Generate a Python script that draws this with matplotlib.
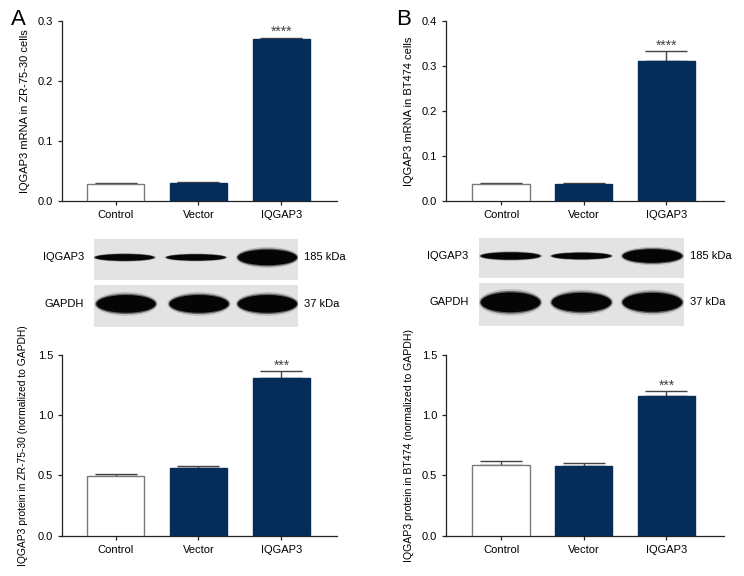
import matplotlib
matplotlib.use('Agg')
import matplotlib.pyplot as plt
from matplotlib.patches import Ellipse

# no condensed face installed; Liberation Sans is the narrowest of the lot
plt.rcParams['font.family'] = ['Liberation Sans', 'DejaVu Sans']
plt.rcParams['font.size'] = 8

groups = ['Control', 'Vector', 'IQGAP3']

# qPCR
mrna_a = [0.029, 0.030, 0.270]
mrna_a_err = [0.001, 0.001, 0.002]
mrna_b = [0.038, 0.038, 0.310]
mrna_b_err = [0.001, 0.001, 0.023]

# western blot quantification
prot_a = [0.498, 0.558, 1.307]
prot_a_err = [0.012, 0.020, 0.060]
prot_b = [0.589, 0.578, 1.160]
prot_b_err = [0.033, 0.025, 0.040]

stars_mrna = ['', '', '****']
stars_prot = ['', '', '***']

# blot band thickness (fraction of strip height)
iqgap3_band_a = [0.16, 0.15, 0.38]
gapdh_band_a = [0.42, 0.42, 0.42]
iqgap3_band_b = [0.18, 0.16, 0.34]
gapdh_band_b = [0.46, 0.44, 0.44]

NAVY = '#062c5a'
face = ['white', NAVY, NAVY]
edge = ['#7a7a7a', NAVY, NAVY]

fig = plt.figure(figsize=(7.44, 5.76), dpi=100)


def bar_panel(rect, vals, errs, stars, ymax, step, ylabel, xlim, labx, labfs=8):
    ax = fig.add_axes(rect)
    x = range(len(groups))
    ax.bar(x, vals, width=0.69, color=face, edgecolor=edge, linewidth=1.0, zorder=3)
    ax.errorbar(x, vals, yerr=[[0] * len(errs), errs], fmt='none', ecolor='#444444',
                elinewidth=1.0, capsize=15, capthick=1.0, zorder=2)
    for i, s in enumerate(stars):
        if s:
            ax.annotate(s, (i, vals[i] + errs[i]), xytext=(0, 4), textcoords='offset points',
                        ha='center', va='center', fontsize=10, color='#444444')
    ax.set_xlim(*xlim)
    ax.set_ylim(0, ymax)
    ticks = [round(step * k, 2) for k in range(int(round(ymax / step)) + 1)]
    ax.set_yticks(ticks)
    ax.set_yticklabels(['%.1f' % t for t in ticks])
    ax.set_xticks(list(x))
    ax.set_xticklabels(groups)
    ax.set_ylabel(ylabel, fontsize=labfs)
    ax.yaxis.set_label_coords(labx, 0.5)
    for sp in ['top', 'right']:
        ax.spines[sp].set_visible(False)
    for sp in ['left', 'bottom']:
        ax.spines[sp].set_linewidth(0.9)
        ax.spines[sp].set_color('#222222')
    ax.tick_params(length=3, width=0.9, color='#222222', labelsize=8)
    return ax


def blot_strip(rect, bands, centers, label, kda):
    ax = fig.add_axes(rect)
    ax.set_facecolor('#e3e3e3')
    ax.set_xlim(0, 1)
    ax.set_ylim(0, 1)
    ax.set_xticks([])
    ax.set_yticks([])
    for sp in ax.spines.values():
        sp.set_visible(False)
    for c, h in zip(centers, bands):
        # soft halo then solid core
        ax.add_patch(Ellipse((c, 0.55), 0.31, h * 1.35, color='#555555', alpha=0.25, lw=0))
        ax.add_patch(Ellipse((c, 0.55), 0.30, h * 1.15, color='#222222', alpha=0.6, lw=0))
        ax.add_patch(Ellipse((c, 0.55), 0.29, h, color='#050505', lw=0))
    ax.text(-0.05, 0.55, label, transform=ax.transAxes, ha='right', va='center', fontsize=8)
    ax.text(1.03, 0.55, kda, transform=ax.transAxes, ha='left', va='center', fontsize=8)


W, H = 744.0, 576.0


def r(x0, y0, x1, y1):
    return [x0 / W, 1 - y1 / H, (x1 - x0) / W, (y1 - y0) / H]


bar_panel(r(62, 20.7, 337, 201), mrna_a, mrna_a_err, stars_mrna, 0.3, 0.1,
          'IQGAP3 mRNA in ZR-75-30 cells', (-0.645, 2.67), -0.116)
bar_panel(r(446, 21, 724, 201), mrna_b, mrna_b_err, stars_mrna, 0.4, 0.1,
          'IQGAP3 mRNA in BT474 cells', (-0.665, 2.696), -0.115)
bar_panel(r(62, 355, 337, 535.7), prot_a, prot_a_err, stars_prot, 1.5, 0.5,
          'IQGAP3 protein in ZR-75-30 (normalized to GAPDH)', (-0.645, 2.67), -0.124, 7.4)
bar_panel(r(446, 355, 724, 535.7), prot_b, prot_b_err, stars_prot, 1.5, 0.5,
          'IQGAP3 protein in BT474 (normalized to GAPDH)', (-0.665, 2.696), -0.115, 7.6)

blot_strip(r(94, 239, 298, 280), iqgap3_band_a, [0.15, 0.50, 0.85], 'IQGAP3', '185 kDa')
blot_strip(r(94, 285, 298, 327), gapdh_band_a, [0.157, 0.515, 0.85], 'GAPDH', '37 kDa')
blot_strip(r(479, 238, 684, 278), iqgap3_band_b, [0.154, 0.50, 0.846], 'IQGAP3', '185 kDa')
blot_strip(r(479, 283, 684, 326), gapdh_band_b, [0.154, 0.50, 0.846], 'GAPDH', '37 kDa')

fig.text(11 / W, 1 - 9 / H, 'A', fontsize=16, ha='left', va='top')
fig.text(396 / W, 1 - 9 / H, 'B', fontsize=16, ha='left', va='top')

fig.savefig('out.png', dpi=100)
